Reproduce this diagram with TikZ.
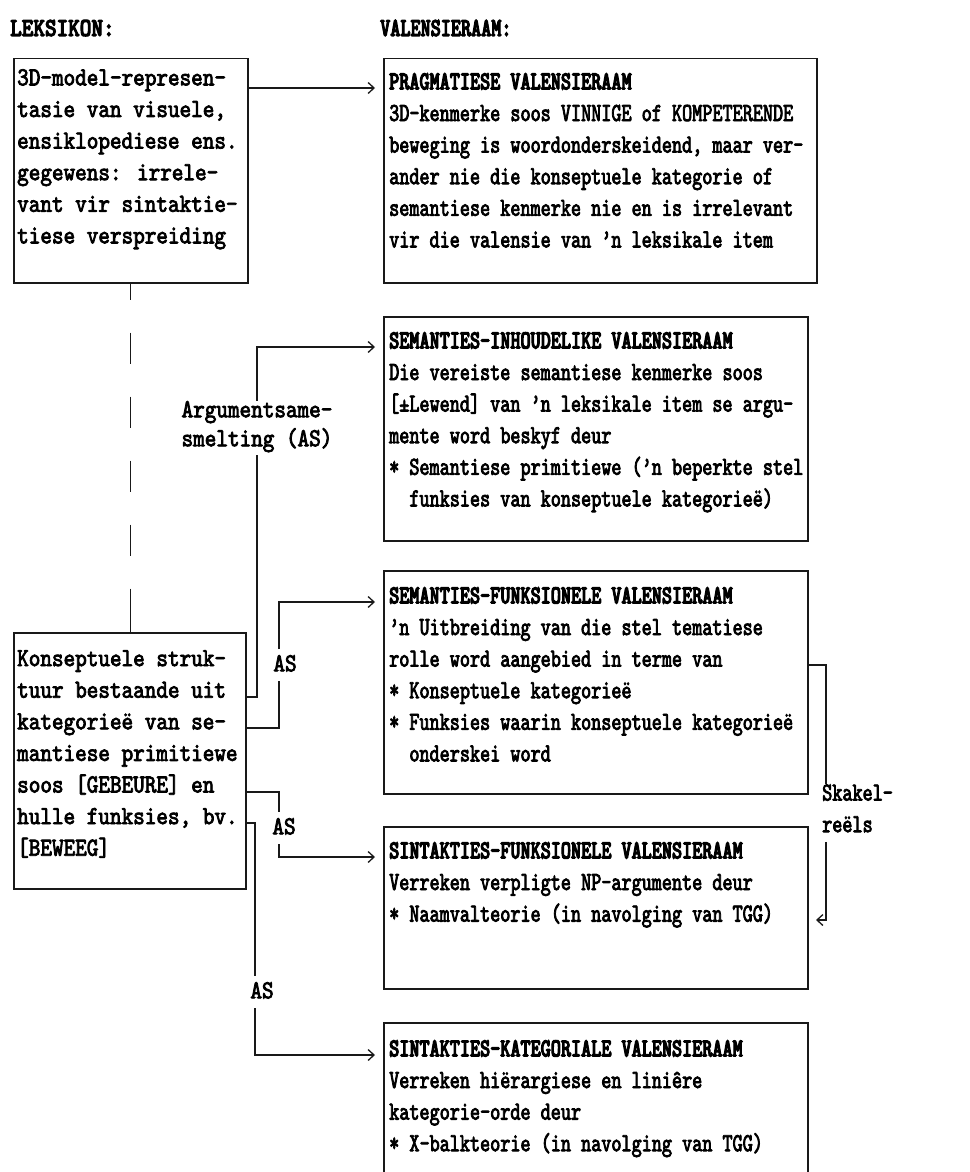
\documentclass[tikz,border=0pt]{standalone}
\usepackage{fontspec}
\usetikzlibrary{arrows.meta}
\newfontfamily\twR{lmmono10}[Extension=.otf, UprightFont=*-regular, BoldFont=lmmonolt10-bold, FakeStretch=0.74, UprightFeatures={FakeBold=3}, BoldFeatures={FakeBold=4}]
\newfontfamily\twL{lmmono10}[Extension=.otf, UprightFont=*-regular, BoldFont=lmmonolt10-bold, FakeStretch=0.85, UprightFeatures={FakeBold=3}, BoldFeatures={FakeBold=4}]
\begin{document}
\begin{tikzpicture}[x=1pt, y=-1pt,
  panel/.style={draw=black!90, line width=1.5pt, inner sep=0pt, anchor=north west},
  body/.style={anchor=north west, inner sep=0pt, align=left, execute at begin node=\strut},
  bodyR/.style={body, font=\twR\fontsize{26}{31.6}\selectfont},
  bodyL/.style={body, font=\twL\fontsize{26}{31.6}\selectfont},
  tag/.style={inner sep=0pt, align=left, execute at begin node=\strut, execute at end node=\strut},
  link/.style={draw=black!90, line width=1.3pt},
  arr/.style={-{Straight Barb[length=6pt, width=11pt]}}]
\useasboundingbox (0,0) rectangle (969,1172);
\clip (0,0) rectangle (969,1172);
\node[font=\twL\bfseries\fontsize{26}{31.6}\selectfont, anchor=base west, inner sep=0pt] (lek) at (10,36) {LEKSIKON:};
\node[font=\twR\bfseries\fontsize{26}{31.6}\selectfont, anchor=base west, inner sep=0pt] (val) at (380,36) {VALENSIERAAM:};
\node[panel, minimum width=234pt, minimum height=224pt] (l1) at (13,58) {};
\node[panel, minimum width=232pt, minimum height=256pt] (l2) at (13,632) {};
\node[panel, minimum width=433pt, minimum height=224pt] (r1) at (383,58) {};
\node[panel, minimum width=424pt, minimum height=224pt] (r2) at (383,316) {};
\node[panel, minimum width=424pt, minimum height=223pt] (r3) at (383,570) {};
\node[panel, minimum width=424pt, minimum height=162pt] (r4) at (383,826) {};
\node[panel, minimum width=424pt, minimum height=200pt] (r5) at (383,1022) {};
\node[bodyL] (l1t) at (17,69) {3D-model-represen-\\tasie van visuele,\\ensiklopediese ens.\\gegewens: irrele-\\vant vir sintaktie-\\tiese verspreiding};
\node[bodyL] (l2t) at (17,650) {Konseptuele struk-\\tuur bestaande uit\\kategorieë van se-\\mantiese primitiewe\\soos {[}GEBEURE{]} en\\hulle funksies, bv.\\{}{[}BEWEEG{]}};
\node[bodyR] (r1t) at (389,73) {{\bfseries PRAGMATIESE VALENSIERAAM}\\3D-kenmerke soos VINNIGE of KOMPETERENDE\\beweging is woordonderskeidend, maar ver-\\ander nie die konseptuele kategorie of\\semantiese kenmerke nie en is irrelevant\\vir die valensie van ’n leksikale item};
\node[bodyR] (r2t) at (389,332) {{\bfseries SEMANTIES-INHOUDELIKE VALENSIERAAM}\\Die vereiste semantiese kenmerke soos\\{}{[}±Lewend{]} van ’n leksikale item se argu-\\mente word beskyf deur\\* Semantiese primitiewe (’n beperkte stel\\\hphantom{*\ }funksies van konseptuele kategorieë)};
\node[bodyR] (r3t) at (389,587) {{\bfseries SEMANTIES-FUNKSIONELE VALENSIERAAM}\\’n Uitbreiding van die stel tematiese\\rolle word aangebied in terme van\\* Konseptuele kategorieë\\* Funksies waarin konseptuele kategorieë\\\hphantom{*\ }onderskei word};
\node[bodyR] (r4t) at (389,842) {{\bfseries SINTAKTIES-FUNKSIONELE VALENSIERAAM}\\Verreken verpligte NP-argumente deur\\* Naamvalteorie (in navolging van TGG)};
\node[bodyR] (r5t) at (389,1040) {{\bfseries SINTAKTIES-KATEGORIALE VALENSIERAAM}\\Verreken hiërargiese en liniêre\\kategorie-orde deur\\* X-balkteorie (in navolging van TGG)};
\node[tag, align=center, font=\twL\fontsize{26}{29}\selectfont] (argsm) at (257,428) {Argumentsame-\\smelting (AS)};
\node[tag, font=\twL\fontsize{26}{31.6}\selectfont] (as3) at (285,665) {AS};
\node[tag, font=\twL\fontsize{26}{31.6}\selectfont] (as4) at (284,828) {AS};
\node[tag, font=\twL\fontsize{26}{31.6}\selectfont] (as5) at (262,992) {AS};
\node[tag, anchor=west, font=\twR\fontsize{26}{31.6}\selectfont] (sk) at (822,813) {Skakel-\\reëls};
\coordinate (a1) at (375,88);
\coordinate (a2) at (375,347);
\coordinate (a3) at (375,602);
\coordinate (a4) at (375,857);
\coordinate (a5) at (375,1055);
\coordinate (b4) at (816,920);
\draw[link, arr] ([yshift=-30pt]l1.north east) -- (a1);
\draw[link, dash pattern=on 16pt off 33pt on 31pt off 33pt on 31pt off 33pt on 31pt off 33pt on 31pt off 33pt on 60pt off 10pt] (l1.south) -- (l1.south |- l2.north);
\draw[link] ([yshift=-65pt]l2.north east) -| (argsm.south);
\draw[link, arr] (argsm.north) |- (a2);
\draw[link] ([yshift=-96pt]l2.north east) -| ([xshift=-6pt]as3.south);
\draw[link, arr] ([xshift=-6pt]as3.north) |- (a3);
\draw[link] ([yshift=-160pt]l2.north east) -| ([xshift=-5pt]as4.north);
\draw[link, arr] ([xshift=-5pt]as4.south) |- (a4);
\draw[link] ([yshift=-191pt]l2.north east) -| ([xshift=-7pt]as5.north);
\draw[link, arr] ([xshift=-7pt]as5.south) |- (a5);
\draw[link] ([yshift=-95pt]r3.north east) -| ([xshift=4pt]sk.north west);
\draw[link, arr] ([xshift=4pt]sk.south west) |- (b4);
\end{tikzpicture}
\end{document}
